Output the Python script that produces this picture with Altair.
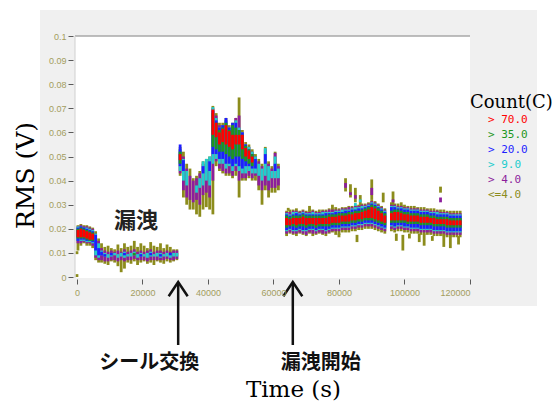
import altair as alt
import pandas as pd

# ---------------------------------------------------------------------------
# Count classes (legend order) and their colours
# ---------------------------------------------------------------------------
COUNT_LABELS = ["> 70.0", "> 35.0", "> 20.0", "> 9.0", "> 4.0", "<=4.0"]
COUNT_COLORS = ["#ff0000", "#1e961e", "#1e1eff", "#22cccc", "#8c1e9c", "#8c8c1c"]
RED, GREEN, BLUE, CYAN, PURPLE, OLIVE = COUNT_LABELS

# ---------------------------------------------------------------------------
# RMS spans per time column, in mV: (low, high) for every count class.
# ---------------------------------------------------------------------------
# Before the seal change: start-up and the leaking period
A_TIME = [300, 1200, 2100, 3000, 3900, 4800, 5700, 6600]
A_OLIVE = [(11, 21.5), (13, 22), (14, 21.5), (13, 21.5), (13, 21), (12, 20.5), (7, 19), (6, 16)]
A_PURPLE = [(14, 21), (14, 21.5), (14.5, 21), (14, 21), (14, 20.5), (13, 20), (8, 18), (7, 15)]
A_CYAN = [(15, 21), (15, 21), (15, 20.5), (14.5, 20.5), (14.5, 20), (14, 19.5), (9, 18), (8, 14)]
A_BLUE = [(15, 20.5), (15.5, 21), (15.5, 20.5), (15, 20), (15, 19.5), (14.5, 19), (11, 17.5), (9, 12)]
A_GREEN = [(16, 20), (16, 20.5), (16, 20), (15.5, 19.5), (15, 19), (15, 18.5), None, None]
A_RED = [(16.5, 19.5), (16.5, 20), (16.5, 19.5), (16, 19), (15.5, 18.5), (15.5, 18), None, None]

B_TIME = [7500, 8500, 9500, 10500, 11500, 12500, 13500, 14500, 15500, 16500, 17500, 18500,
          19500, 20500, 21500, 22500, 23500, 24500, 25500, 26500, 27500, 28500, 29500, 30500]
B_OLIVE = [(6, 14), (5.5, 12.5), (5, 13), (6.5, 12), (6, 11.5), (4.5, 13.5), (2, 12), (3.5, 14),
           (6, 12.5), (5.5, 13), (6.5, 15), (5, 12.5), (6, 14), (6.5, 13), (5.5, 12), (6, 14.5),
           (5, 13), (6.5, 12.5), (6, 14), (5.5, 12), (6.5, 13.5), (6, 12.5), (6.5, 11.5), (7, 11.5)]
B_PURPLE = [(7, 12), (6.5, 11), (6.5, 10.5), (7, 11), (7, 10.5), (6.5, 11), (7, 10.5), (6.5, 11.5),
            (7, 10.5), (7, 11), (7.5, 11.5), (7, 10.5), (7, 11), (7, 10.5), (6.5, 11), (7, 11.5),
            (7, 10.5), (7, 11), (7, 11), (7, 10.5), (7.5, 11), (7, 10.5), (7, 11), (7.5, 11)]
B_CYAN = [(9, 11), (8.5, 10), (8, 9.5), (8.5, 10), (9, 10), (8, 9.5), (8.5, 10), (8, 10.5),
          (8.5, 9.5), (8.5, 10), (9, 10.5), (8, 9.5), (8.5, 10), (8.5, 9.5), (8, 10), (8.5, 10.5),
          (8.5, 9.5), (8.5, 10), (8, 10), (8.5, 9.5), (8.5, 10), (8, 9.5), (8.5, 10), (8.5, 10)]
B_BLUE = [(9, 10.5), (8.5, 9.5), None, (9, 10), None, None, None, (9, 10),
          None, None, None, None, (8.5, 9.5), None, None, (9, 10),
          None, None, (8.5, 9.5), None, None, (9, 10), None, None]
B_GREEN = [None, None, None, None, None, None, None, None, None, None, (9, 10), None,
           None, None, None, None, None, None, None, None, None, None, None, None]

# After the seal change
C_TIME = [31500, 32500, 33500, 34500, 35500, 36500, 37500, 38500, 39500, 40500, 41500,
          42500, 43500, 44500, 45500, 46500, 47500, 48500, 49500, 50500, 51500, 52500,
          53500, 54500, 55500, 56500, 57500, 58500, 59500, 60500, 61500]
C_OLIVE = [(42, 54), (33, 52), (30, 47), (28, 45), (28, 41), (26, 42), (25, 44), (28, 48),
           (29, 49), (28, 50), (26, 71), (46, 68), (44, 64), (43, 64), (42, 66), (42, 63),
           (41, 64), (42, 66), (33, 74.5), (40, 61), (40, 56), (41, 55), (40, 53), (40, 51),
           (36, 49), (30, 47), (36, 54), (33, 48), (35, 46), (35, 52), (36, 47)]
C_PURPLE = [(43, 53), (36, 50), (33, 45), (32, 42), (31, 40), (32, 41), (30, 43), (34, 47),
            (35, 48), (33, 49), (40, 70), (48, 67), (45, 63), (44, 63), (43, 65), (43, 62),
            (42, 63), (44, 66), (40, 67), (41, 60), (41, 55), (42, 54), (41, 52), (42, 50),
            (38, 48), (36, 46), (38, 53), (36, 47), (37, 45), (37, 51.5), (38, 46)]
C_CYAN = [(44, 53), (40, 49), (38, 44), None, None, (35, 38), (37, 41), (38, 48),
          (40, 49), (38, 50), (47, 70.5), (49, 66), (47, 62), (47, 63), (45, 65), (46, 62),
          (44, 63), (46, 65), (44, 62), (43, 60), (43, 55), (44, 54), (43, 52), (43, 50),
          (42, 47), (40, 45), (42, 53.5), (40, 46), (41, 44), (41, 50), (41, 45)]
C_BLUE = [(46, 55), (44, 48.5), None, None, None, None, None, (43, 46),
          None, (44, 48), (51, 69), (51, 65), (49, 62), (49, 63), (47, 66), (47, 62),
          (46, 64), (47, 64), (46, 61), (45, 60), (46, 55), (46, 53), (45, 51), (45, 49),
          None, None, (47, 51), None, None, (44, 47), None]
C_GREEN = [(47, 52), None, None, None, None, None, None, None,
           None, None, (54, 68), (53, 64), (52, 61), (52, 62), (51, 64), (50, 61),
           (49, 63), (50, 62), (50, 61), (49, 59), (48, 54.5), (47, 53), (46, 51), None,
           None, None, None, None, None, None, None]
C_RED = [(48.5, 51), None, None, None, None, None, None, None,
         None, None, (59, 69.5), (58, 64), (55, 60), (56, 61.5), (55, 63), (54, 60.5),
         (53, 59), (55, 59), (55, 59), (53, 59), (50, 53.5), (49, 52.5), (47.5, 50), None,
         None, None, None, None, None, None, None]

# Leak onset
D_TIME = [64000, 65000, 66000, 67000, 68000, 69000, 70000, 71000, 72000, 73000, 74000,
          75000, 76000, 77000, 78000, 79000, 80000, 81000, 82000, 83000, 84000, 85000,
          86000, 87000, 88000, 89000, 90000, 91000, 92000, 93000, 94000]
D_RED = [(21.5, 24.5), (21.5, 24), (22, 24.5), (21.5, 24.5), (22, 24.5), (22, 25), (21.5, 24.5),
         (22, 24.5), (22, 24.5), (21.5, 24.5), (22, 24.5), (22, 24.5), (22, 24.5), (22, 25),
         (22.5, 25), (22.5, 25), (22.5, 25.5), (23, 25.5), (23, 25.5), (23, 26), (23.5, 26),
         (23.5, 26.5), (24, 26.5), (24, 27), (24.5, 27.5), (24.5, 28), (24.5, 29), (24, 28.5),
         (23.5, 27.5), (23, 26.5), (22.5, 25.5)]
D_GREEN = [(20.5, 25.5), (21, 25), (21, 25.5), (20.5, 25.5), (21, 25.5), (21, 26), (20.5, 25.5),
           (21, 25.5), (21, 25.5), (20.5, 25.5), (21, 25.5), (21, 25.5), (21, 25.5), (21, 26),
           (21.5, 26), (21.5, 26), (21.5, 26.5), (22, 26.5), (22, 26.5), (22, 27), (22.5, 27),
           (22.5, 27.5), (23, 27.5), (23, 28), (23.5, 28.5), (23.5, 29), (23.5, 30), (23, 29.5),
           (22.5, 28.5), (22, 27.5), (21.5, 26.5)]
D_BLUE = [(19.5, 26), (20, 25.5), (19.5, 26), (19.5, 26.5), (20, 26), (19.5, 26.5), (19.5, 26),
          (20, 26), (20, 26), (19.5, 26), (20, 26), (20, 26), (19.5, 26.5), (20, 26.5),
          (20.5, 26.5), (20.5, 27), (20.5, 27), (21, 27), (21, 27.5), (21, 27.5), (21.5, 28),
          (21.5, 28), (22, 28.5), (22, 28.5), (22.5, 29), (22.5, 29.5), (22.5, 30.5), (22, 30),
          (21.5, 29), (21, 28), (20.5, 27)]
D_CYAN = [(19, 26.5), (19.5, 26), (19, 27), (19, 27), (19.5, 26.5), (19, 27), (19, 26.5),
          (19.5, 26.5), (19.5, 27), (19, 26.5), (19.5, 26.5), (19.5, 27), (19, 27), (19.5, 27),
          (20, 27), (20, 27.5), (20, 27.5), (20.5, 28), (20.5, 28), (20.5, 28), (21, 28.5),
          (21, 29), (21.5, 29), (21.5, 29.5), (22, 29.5), (22, 30), (22, 31), (21.5, 30.5),
          (21, 29.5), (20.5, 28.5), (20, 27.5)]
D_PURPLE = [(18, 27), (18.5, 27), (18, 27.5), (18, 27.5), (18.5, 27), (18, 27.5), (17.5, 27),
            (18.5, 27), (18, 27.5), (18, 27), (18.5, 27), (18, 27.5), (18, 27.5), (18.5, 28),
            (19, 28), (19, 28), (19, 28), (19.5, 28.5), (19.5, 28.5), (19.5, 29), (20, 29),
            (20, 29.5), (20.5, 29.5), (20.5, 30), (21, 30), (21, 30.5), (21, 31.5), (20.5, 31),
            (20, 30), (19.5, 29), (19, 28)]
D_OLIVE = [(17, 27.5), (18, 28), (17.5, 28), (17, 28.5), (18, 27.5), (17.5, 28), (17, 27.5),
           (18, 28), (17, 28), (17.5, 27.5), (18, 28), (17.5, 28), (17, 28), (18, 28.5),
           (18.5, 28.5), (17.5, 29), (17.5, 28.5), (18.5, 29), (18.5, 29), (18.5, 29.5), (19, 29.5),
           (19, 30), (19.5, 30), (19.5, 30.5), (20, 30.5), (20, 31), (20, 32), (19.5, 31.5),
           (19, 30.5), (18.5, 29.5), (18, 28.5)]

E_TIME = [96000, 97000, 98000, 99000, 100000, 101000, 102000, 103000, 104000, 105000, 106000,
          107000, 108000, 109000, 110000, 111000, 112000, 113000, 114000, 115000, 116000, 117000]
E_RED = [(23.5, 26.5), (23.5, 27), (23.5, 27), (23.5, 26.5), (23.5, 26), (23, 26), (23, 25.5),
         (23, 25.5), (23, 25.5), (22.5, 25), (22.5, 25), (22.5, 25), (22.5, 24.5), (22, 24.5),
         (22, 24), (22, 24), (22, 24), (21.5, 24), (21.5, 23.5), (21.5, 23.5), (21.5, 23.5),
         (21.5, 23.5)]
E_GREEN = [(22.5, 27.5), (22.5, 28), (22.5, 28), (22.5, 27.5), (22.5, 27), (22, 27), (22, 26.5),
           (22, 26.5), (22, 26.5), (21.5, 26), (21.5, 26), (21.5, 26), (21.5, 25.5), (21, 25.5),
           (21, 25), (21, 25), (21, 25), (20.5, 25), (20.5, 24.5), (20.5, 24.5), (20.5, 24.5),
           (20.5, 24.5)]
E_BLUE = [(21.5, 29), (21, 29), (21.5, 28.5), (21.5, 28.5), (21, 28), (21, 28), (20.5, 27.5),
          (20.5, 27.5), (20.5, 27.5), (20, 27), (20, 27), (20, 27), (20, 26.5), (19.5, 26.5),
          (19.5, 26), (19.5, 26), (19.5, 26), (19, 26), (19, 25.5), (19, 25.5), (19, 25.5),
          (19, 25.5)]
E_CYAN = [(21, 29.5), (20.5, 29.5), (21, 29), (21, 29), (20.5, 28.5), (20.5, 28.5), (20, 28),
          (20, 28), (20, 28), (19.5, 27.5), (19.5, 27.5), (19.5, 27.5), (19.5, 27), (19, 27),
          (19, 27), (19, 26.5), (19, 26.5), (18.5, 26.5), (18.5, 26), (18.5, 26), (18.5, 26),
          (18.5, 26)]
E_PURPLE = [(20, 30), (19.5, 30), (20, 29.5), (20, 29.5), (19.5, 29), (19.5, 29), (19, 28.5),
            (19, 28.5), (19, 28.5), (18.5, 28), (18.5, 28), (18.5, 28), (18.5, 27.5), (18, 27.5),
            (18, 27.5), (18, 27), (18, 27), (17.5, 27), (17.5, 26.5), (17.5, 26.5), (17.5, 26.5),
            (17.5, 26.5)]
E_OLIVE = [(19, 31), (18.5, 30.5), (19, 30.5), (19, 30), (18.5, 30), (18.5, 29.5), (18, 29.5),
           (18, 29.5), (18, 29), (17.5, 29), (17.5, 29), (17.5, 28.5), (17.5, 28.5), (17, 28.5),
           (17, 28), (17, 28), (17, 28), (16.5, 27.5), (16.5, 27.5), (16.5, 27.5), (16.5, 27.5),
           (16.5, 27.5)]

# Isolated readings away from the main band: (time, low, high) in mV
OLIVE_SPIKES = [(0, 0, 1.2), (0, 9.5, 10.7), (64500, 27.5, 28.7), (71000, 27.5, 29.5),
                (78000, 28, 30), (80000, 16.5, 18), (82000, 35.5, 41), (83500, 33, 38.5),
                (85000, 31, 37), (85500, 14.5, 17.5), (86500, 29, 34), (90000, 32, 40.5),
                (93500, 31, 35), (96500, 29, 35.5), (97500, 15, 18), (99000, 28, 31),
                (99500, 11, 17.5), (101500, 16, 18), (104500, 14.5, 18), (106000, 13, 18),
                (108500, 15, 17), (111000, 35, 37.5), (112000, 12.5, 18), (114000, 12, 17.5),
                (116500, 13.5, 17)]
PURPLE_SPIKES = [(82000, 37, 39), (83500, 34, 35.2), (85000, 32.5, 34), (90000, 34, 37),
                 (96500, 31, 32.2), (111000, 31, 33)]
CYAN_SPIKES = [(85000, 29.5, 30.7), (86500, 31, 32.2)]

# Axis ticks
X_TICKS = [0, 20000, 40000, 60000, 80000, 100000, 120000]
Y_TICKS = [0, 0.01, 0.02, 0.03, 0.04, 0.05, 0.06, 0.07, 0.08, 0.09, 0.1]

# Annotations
LEAK_LABEL = {"time": [18000], "rms": [0.0232], "label": ["漏洩"]}
SEAL_CHANGE_TIME = 30900
LEAK_START_TIME = 65900

# ---------------------------------------------------------------------------
# Long table of vertical spans, drawn low-count classes first
# ---------------------------------------------------------------------------
segments = [
    (A_TIME, {OLIVE: A_OLIVE, PURPLE: A_PURPLE, CYAN: A_CYAN, BLUE: A_BLUE, GREEN: A_GREEN, RED: A_RED}),
    (B_TIME, {OLIVE: B_OLIVE, PURPLE: B_PURPLE, CYAN: B_CYAN, BLUE: B_BLUE, GREEN: B_GREEN}),
    (C_TIME, {OLIVE: C_OLIVE, PURPLE: C_PURPLE, CYAN: C_CYAN, BLUE: C_BLUE, GREEN: C_GREEN, RED: C_RED}),
    (D_TIME, {OLIVE: D_OLIVE, PURPLE: D_PURPLE, CYAN: D_CYAN, BLUE: D_BLUE, GREEN: D_GREEN, RED: D_RED}),
    (E_TIME, {OLIVE: E_OLIVE, PURPLE: E_PURPLE, CYAN: E_CYAN, BLUE: E_BLUE, GREEN: E_GREEN, RED: E_RED}),
]
rows = []
for times, classes in segments:
    for cls, spans in classes.items():
        for t, span in zip(times, spans):
            if span is None:
                continue
            rows.append({"time": t, "lo": span[0] / 1000, "hi": span[1] / 1000, "count": cls})
for cls, spikes in [(OLIVE, OLIVE_SPIKES), (PURPLE, PURPLE_SPIKES), (CYAN, CYAN_SPIKES)]:
    for t, lo, hi in spikes:
        rows.append({"time": t, "lo": lo / 1000, "hi": hi / 1000, "count": cls})

draw_rank = {OLIVE: 0, PURPLE: 1, CYAN: 2, BLUE: 3, GREEN: 4, RED: 5}
spans_df = pd.DataFrame(rows)
spans_df["rank"] = spans_df["count"].map(draw_rank)
spans_df = spans_df.sort_values("rank", kind="stable").reset_index(drop=True)

# ---------------------------------------------------------------------------
# Chart
# ---------------------------------------------------------------------------
W, H = 395, 242
x_scale = alt.Scale(domain=[-600, 120000], nice=False, zero=False)
y_scale = alt.Scale(domain=[-0.0004, 0.1], nice=False, zero=False)
TICK_LABEL_COLOR = "#a39d5e"
JP_FONT = "Noto Sans CJK JP"
one_row = pd.DataFrame({"k": [0]})

x_axis = alt.Axis(
    values=X_TICKS, format="d", title="Time (s)", grid=False, domain=False,
    labelColor=TICK_LABEL_COLOR, labelFont="Liberation Sans", labelFontSize=9,
    labelPadding=4, labelOverlap=False, tickColor="#5a5a5a", tickSize=5, offset=1, zindex=1,
    titleFont="DejaVu Serif", titleFontSize=23, titleFontWeight="normal", titleColor="#000000",
    titleX=218, titleY=110, titleAlign="center", titleBaseline="middle",
)
y_axis = alt.Axis(
    values=Y_TICKS, format="~g", title="RMS (V)", grid=False, domain=False,
    labelColor=TICK_LABEL_COLOR, labelFont="Liberation Sans", labelFontSize=9,
    labelPadding=2, labelOverlap=False, labelSeparation=0, tickColor="#5a5a5a",
    tickSize=5, offset=2, zindex=1,
    titleFont="DejaVu Serif", titleFontSize=25, titleFontWeight="normal", titleColor="#000000",
    titleAngle=270, titleX=-48, titleY=139, titleAlign="center", titleBaseline="middle",
)


def x_enc(field="time:Q"):
    return alt.X(field, scale=x_scale, axis=x_axis)


def y_enc(field):
    return alt.Y(field, scale=y_scale, axis=y_axis)


panel = alt.Chart(one_row).mark_rect(color="#f0f0f0").encode(
    x=alt.value(-35), x2=alt.value(462), y=alt.value(-26), y2=alt.value(270)
)
plot_area = alt.Chart(one_row).mark_rect(color="#ffffff").encode(
    x=alt.value(0), x2=alt.value(W), y=alt.value(0), y2=alt.value(H)
)
top_edge = alt.Chart(one_row).mark_rule(color="#a8a8a8", strokeWidth=1.5).encode(
    x=alt.value(0), x2=alt.value(W), y=alt.value(0)
)
left_edge = alt.Chart(one_row).mark_rule(color="#d0d0d0", strokeWidth=1).encode(
    x=alt.value(0), y=alt.value(0), y2=alt.value(H)
)

spans = alt.Chart(spans_df).mark_rule(strokeWidth=2.8, strokeCap="butt").encode(
    x=x_enc(),
    y=y_enc("lo:Q"),
    y2="hi:Q",
    color=alt.Color(
        "count:N",
        scale=alt.Scale(domain=COUNT_LABELS, range=COUNT_COLORS),
        legend=alt.Legend(
            title="Count(C)", orient="none", legendX=395, legendY=58, padding=0,
            titleFont="DejaVu Serif", titleFontSize=18, titleFontWeight="normal",
            titleColor="#000000", titlePadding=2,
            labelFont="DejaVu Sans Mono", labelFontSize=11,
            labelColor={"expr": "scale('color', datum.value)"},
            symbolSize=0, symbolOpacity=0, symbolStrokeWidth=0,
            labelOffset=7, rowPadding=3,
        ),
    ),
)

leak_text = alt.Chart(pd.DataFrame(LEAK_LABEL)).mark_text(
    font=JP_FONT, fontSize=22, fontWeight="bold", color="#222222", baseline="middle"
).encode(x=x_enc(), y=y_enc("rms:Q"), text="label:N")

marker_df = pd.DataFrame({"time": [SEAL_CHANGE_TIME, LEAK_START_TIME],
                          "label": ["シール交換", "漏洩開始"]})
arrow_shaft = alt.Chart(marker_df).mark_rule(color="#111111", strokeWidth=2.5).encode(
    x=x_enc(), y=alt.value(247), y2=alt.value(309)
)
arrow_head = alt.Chart(marker_df).mark_point(
    shape="M -1 1.5 L 0 0 L 1 1.5", filled=False, color="#111111",
    strokeWidth=2.5, size=361, opacity=1, strokeJoin="miter",
).encode(x=x_enc(), y=alt.value(246))

seal_text = alt.Chart(marker_df.iloc[[0]]).mark_text(
    font=JP_FONT, fontSize=20, fontWeight="bold", color="#111111",
    baseline="middle", dx=-29
).encode(x=x_enc(), y=alt.value(327), text="label:N")
onset_text = alt.Chart(marker_df.iloc[[1]]).mark_text(
    font=JP_FONT, fontSize=20, fontWeight="bold", color="#111111",
    baseline="middle", dx=28
).encode(x=x_enc(), y=alt.value(327), text="label:N")

chart = alt.layer(
    panel, plot_area, spans, top_edge, left_edge, leak_text,
    arrow_shaft, arrow_head, seal_text, onset_text,
).properties(
    width=W, height=H,
    padding={"left": 75, "top": 36, "right": 84, "bottom": 123},
    autosize=alt.AutoSizeParams(type="none"),
    background="#ffffff",
).configure_view(stroke=None)

chart.save("out.html", embed_options={"renderer": "svg", "actions": False})
